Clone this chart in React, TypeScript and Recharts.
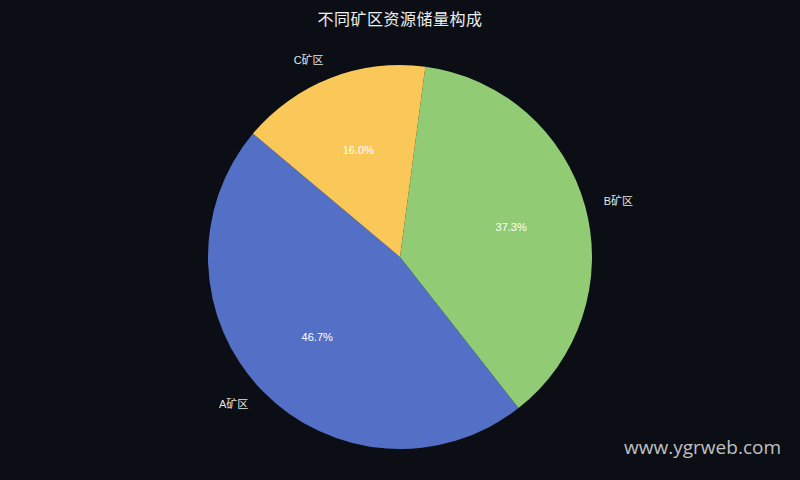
import { PieChart, Pie, Cell } from 'recharts';

const regions = ['A矿区', 'B矿区', 'C矿区'];
const reserves = [46.7, 37.3, 16.0];
const sliceColors = ['#5470c6', '#91cc75', '#fac858'];

const data = regions.map((name, i) => ({ name, value: reserves[i] }));

const RADIAN = Math.PI / 180;
const FONT = '"DejaVu Sans", "Noto Sans CJK SC", sans-serif';
const LABEL_FONT = '"Liberation Sans", "Noto Sans CJK SC", sans-serif';

const renderLabels = (props: any) => {
  const { cx, cy, midAngle, outerRadius, percent, name } = props;
  const cos = Math.cos(-midAngle * RADIAN);
  const sin = Math.sin(-midAngle * RADIAN);
  const inner = outerRadius * 0.6;
  const outer = outerRadius * 1.1;
  return (
    <g>
      <text
        x={cx + inner * cos}
        y={cy + inner * sin}
        fill="#ffffff"
        fontSize={11}
        fontFamily={LABEL_FONT}
        textAnchor="middle"
        dominantBaseline="central"
      >
        {(percent * 100).toFixed(1)}%
      </text>
      <text
        x={cx + outer * cos}
        y={cy + outer * sin}
        fill="#e6e6e6"
        fontSize={11}
        fontFamily={LABEL_FONT}
        textAnchor={cos >= 0 ? 'start' : 'end'}
        dominantBaseline="central"
      >
        {name}
      </text>
    </g>
  );
};

export default function App() {
  return (
    <div
      style={{
        position: 'fixed',
        left: 0,
        top: 0,
        width: 800,
        height: 480,
        background: '#0b0e14',
        overflow: 'hidden',
      }}
    >
      <div
        style={{
          position: 'absolute',
          top: 6,
          width: 800,
          textAlign: 'center',
          color: '#eeeeee',
          fontSize: 16,
          fontFamily: FONT,
          letterSpacing: 0.5,
        }}
      >
        不同矿区资源储量构成
      </div>
      <PieChart width={800} height={480} margin={{ top: 0, right: 0, bottom: 0, left: 0 }}>
        <Pie
          data={data}
          dataKey="value"
          nameKey="name"
          cx={400}
          cy={257}
          outerRadius={192}
          startAngle={140}
          endAngle={500}
          stroke="none"
          label={renderLabels}
          labelLine={false}
          isAnimationActive={false}
        >
          {data.map((d, i) => (
            <Cell key={d.name} fill={sliceColors[i]} />
          ))}
        </Pie>
      </PieChart>
      <div
        style={{
          position: 'absolute',
          right: 19,
          top: 434,
          color: 'rgba(225,225,225,0.85)',
          fontSize: 19,
          fontFamily: '"Open Sans", sans-serif',
        }}
      >
        www.ygrweb.com
      </div>
    </div>
  );
}
